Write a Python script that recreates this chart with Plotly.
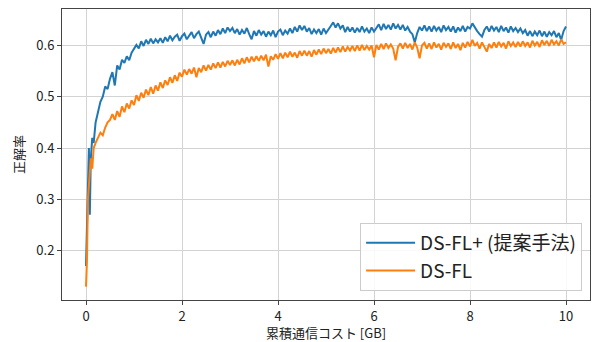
import plotly.graph_objects as go

# cumulative communication cost [GB]
cost_gb = [0.00, 0.02, 0.04, 0.06, 0.08, 0.10, 0.13, 0.16, 0.20, 0.25, 0.30, 0.35, 0.40, 0.45, 0.50,
           0.55, 0.60, 0.65, 0.70, 0.75, 0.80, 0.85, 0.90, 0.95, 1.00,
           1.05, 1.10, 1.15, 1.20, 1.25, 1.30, 1.35, 1.40, 1.45, 1.50,
           1.55, 1.60, 1.65, 1.70, 1.75, 1.80, 1.85, 1.90, 1.95, 2.00,
           2.05, 2.10, 2.15, 2.20, 2.25, 2.30, 2.35, 2.40, 2.45, 2.50,
           2.55, 2.60, 2.65, 2.70, 2.75, 2.80, 2.85, 2.90, 2.95, 3.00,
           3.05, 3.10, 3.15, 3.20, 3.25, 3.30, 3.35, 3.40, 3.45, 3.50,
           3.55, 3.60, 3.65, 3.70, 3.75, 3.80, 3.85, 3.90, 3.95, 4.00,
           4.05, 4.10, 4.15, 4.20, 4.25, 4.30, 4.35, 4.40, 4.45, 4.50,
           4.55, 4.60, 4.65, 4.70, 4.75, 4.80, 4.85, 4.90, 4.95, 5.00,
           5.05, 5.10, 5.15, 5.20, 5.25, 5.30, 5.35, 5.40, 5.45, 5.50,
           5.55, 5.60, 5.65, 5.70, 5.75, 5.80, 5.85, 5.90, 5.95, 6.00,
           6.05, 6.10, 6.15, 6.20, 6.25, 6.30, 6.35, 6.40, 6.45, 6.50,
           6.55, 6.60, 6.65, 6.70, 6.75, 6.80, 6.85, 6.90, 6.95, 7.00,
           7.05, 7.10, 7.15, 7.20, 7.25, 7.30, 7.35, 7.40, 7.45, 7.50,
           7.55, 7.60, 7.65, 7.70, 7.75, 7.80, 7.85, 7.90, 7.95, 8.00,
           8.05, 8.10, 8.15, 8.20, 8.25, 8.30, 8.35, 8.40, 8.45, 8.50,
           8.55, 8.60, 8.65, 8.70, 8.75, 8.80, 8.85, 8.90, 8.95, 9.00,
           9.05, 9.10, 9.15, 9.20, 9.25, 9.30, 9.35, 9.40, 9.45, 9.50,
           9.55, 9.60, 9.65, 9.70, 9.75, 9.80, 9.85, 9.90, 9.95, 10.00]

# accuracy, DS-FL+ (proposed)
acc_dsfl_plus = [0.17, 0.25, 0.27, 0.40, 0.27, 0.38, 0.42, 0.41, 0.45, 0.47, 0.49, 0.50, 0.52, 0.515, 0.535,
                 0.548, 0.522, 0.561, 0.553, 0.572, 0.566, 0.579, 0.571, 0.586, 0.593,
                 0.601, 0.594, 0.608, 0.599, 0.611, 0.603, 0.613, 0.604, 0.612, 0.606,
                 0.614, 0.605, 0.616, 0.608, 0.619, 0.61, 0.617, 0.621, 0.609, 0.618,
                 0.623, 0.612, 0.62, 0.626, 0.614, 0.622, 0.627, 0.616, 0.603, 0.621,
                 0.626, 0.616, 0.627, 0.619, 0.63, 0.622, 0.633, 0.624, 0.635, 0.628,
                 0.634, 0.624, 0.632, 0.621, 0.63, 0.623, 0.634, 0.622, 0.612, 0.628,
                 0.619, 0.63, 0.621, 0.628, 0.617, 0.627, 0.62, 0.629, 0.616, 0.627,
                 0.631, 0.62, 0.629, 0.623, 0.633, 0.624, 0.636, 0.627, 0.639, 0.63,
                 0.638, 0.627, 0.634, 0.622, 0.631, 0.624, 0.632, 0.621, 0.633, 0.624,
                 0.632, 0.638, 0.645, 0.635, 0.643, 0.633, 0.639, 0.626, 0.636, 0.627,
                 0.635, 0.625, 0.634, 0.626, 0.637, 0.627, 0.633, 0.624, 0.635, 0.627,
                 0.634, 0.641, 0.63, 0.642, 0.632, 0.64, 0.631, 0.643, 0.633, 0.64,
                 0.631, 0.64, 0.629, 0.636, 0.627, 0.622, 0.606, 0.624, 0.636, 0.629,
                 0.639, 0.628, 0.637, 0.627, 0.638, 0.629, 0.636, 0.626, 0.639, 0.63,
                 0.636, 0.627, 0.637, 0.625, 0.635, 0.628, 0.638, 0.627, 0.636, 0.633,
                 0.643, 0.634, 0.628, 0.622, 0.617, 0.63, 0.637, 0.627, 0.638, 0.629,
                 0.636, 0.626, 0.638, 0.628, 0.635, 0.625, 0.637, 0.628, 0.634, 0.626,
                 0.633, 0.624, 0.63, 0.619, 0.628, 0.618, 0.627, 0.62, 0.629, 0.618,
                 0.627, 0.617, 0.626, 0.62, 0.628, 0.616, 0.624, 0.611, 0.628, 0.637]

# accuracy, DS-FL
acc_dsfl = [0.13, 0.18, 0.30, 0.33, 0.35, 0.38, 0.36, 0.40, 0.41, 0.42, 0.43, 0.425, 0.44, 0.45, 0.455,
            0.466, 0.455, 0.472, 0.461, 0.481, 0.47, 0.487, 0.477, 0.493, 0.484,
            0.503, 0.492, 0.508, 0.498, 0.514, 0.503, 0.519, 0.506, 0.522, 0.512,
            0.528, 0.517, 0.532, 0.523, 0.538, 0.527, 0.542, 0.531, 0.547, 0.539,
            0.553, 0.543, 0.554, 0.545, 0.557, 0.538, 0.556, 0.548, 0.561, 0.551,
            0.562, 0.553, 0.565, 0.556, 0.567, 0.557, 0.568, 0.559, 0.57, 0.562,
            0.571, 0.561, 0.572, 0.563, 0.575, 0.565, 0.577, 0.567, 0.578, 0.569,
            0.579, 0.57, 0.58, 0.571, 0.582, 0.559, 0.579, 0.572, 0.583, 0.574,
            0.585, 0.575, 0.586, 0.577, 0.588, 0.578, 0.586, 0.576, 0.589, 0.58,
            0.59, 0.58, 0.589, 0.578, 0.591, 0.582, 0.592, 0.583, 0.594, 0.585,
            0.593, 0.584, 0.595, 0.586, 0.596, 0.587, 0.598, 0.588, 0.597, 0.59,
            0.599, 0.589, 0.6, 0.59, 0.601, 0.591, 0.599, 0.592, 0.6, 0.577,
            0.601, 0.592, 0.603, 0.593, 0.604, 0.595, 0.602, 0.594, 0.571, 0.597,
            0.604, 0.594, 0.605, 0.595, 0.603, 0.592, 0.606, 0.596, 0.575, 0.6,
            0.605, 0.594, 0.604, 0.593, 0.606, 0.596, 0.603, 0.592, 0.605, 0.597,
            0.604, 0.593, 0.606, 0.595, 0.603, 0.591, 0.605, 0.596, 0.607, 0.598,
            0.611, 0.599, 0.605, 0.594, 0.606, 0.597, 0.588, 0.603, 0.595, 0.606,
            0.596, 0.607, 0.598, 0.605, 0.594, 0.608, 0.599, 0.606, 0.597, 0.607,
            0.598, 0.608, 0.599, 0.606, 0.596, 0.609, 0.6, 0.607, 0.597, 0.61,
            0.601, 0.609, 0.599, 0.611, 0.602, 0.608, 0.6, 0.612, 0.603, 0.606]

series_names = ["DS-FL+ (提案手法)", "DS-FL"]
series_colors = ["#1f77b4", "#ff7f0e"]
x_ticks = [0, 2, 4, 6, 8, 10]
y_ticks = [0.2, 0.3, 0.4, 0.5, 0.6]

FONT = "Noto Sans CJK JP, DejaVu Sans, sans-serif"

fig = go.Figure()
for name, ys, col in zip(series_names, [acc_dsfl_plus, acc_dsfl], series_colors):
    fig.add_trace(go.Scatter(x=cost_gb, y=ys, mode="lines", name=name,
                             line=dict(color=col, width=2)))

axis_common = dict(showline=True, linecolor="#444", linewidth=1, mirror=True,
                   showgrid=True, gridcolor="#d3d3d3", gridwidth=1,
                   ticks="outside", ticklen=4, tickcolor="#444", zeroline=False,
                   tickfont=dict(size=13, color="#222", family=FONT))

fig.update_xaxes(range=[-0.5, 10.5], tickvals=x_ticks,
                 title=dict(text="累積通信コスト [GB]", font=dict(size=13, color="#222", family=FONT), standoff=5),
                 **axis_common)
fig.update_yaxes(range=[0.104, 0.671], tickvals=y_ticks, tickformat=".1f",
                 title=dict(text="正解率", font=dict(size=13, color="#222", family=FONT), standoff=8),
                 **axis_common)

fig.update_layout(
    width=592, height=342,
    margin=dict(l=62, r=2, t=9, b=42),
    plot_bgcolor="white", paper_bgcolor="white",
    font=dict(family=FONT, color="#222"),
    legend=dict(x=0.985, y=0.031, xanchor="right", yanchor="bottom",
                bgcolor="rgba(255,255,255,0.85)", bordercolor="#cccccc", borderwidth=1,
                font=dict(size=19, color="#222", family=FONT),
                tracegroupgap=0, itemwidth=49),
    showlegend=True,
)

fig.write_html("out.html", config={"displayModeBar": False},
               post_script="document.body.style.margin='0';")
